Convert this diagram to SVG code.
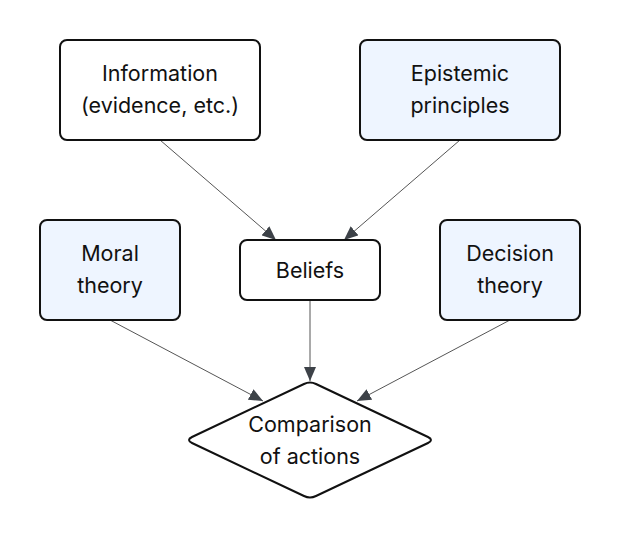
<svg xmlns="http://www.w3.org/2000/svg" width="620" height="540" viewBox="0 0 620 540">
<style>
.box{fill:#ffffff;stroke:#111111;stroke-width:2}
.blue{fill:#eef5ff}
.lbl{font-family:Inter,"Liberation Sans",sans-serif;font-size:21.5px;fill:#111111;text-anchor:middle}
.edge{stroke:#555555;stroke-width:1;fill:none;marker-end:url(#ah)}
</style>
<defs>
<marker id="ah" markerUnits="userSpaceOnUse" markerWidth="15" markerHeight="12" refX="14" refY="6" orient="auto">
<path d="M0,0 L14,6 L0,12 Z" fill="#3d4248"/>
</marker>
</defs>
<rect width="620" height="540" fill="#ffffff"/>
<g id="edges">
<line class="edge" x1="160" y1="140" x2="276" y2="240"/>
<line class="edge" x1="460" y1="140" x2="344" y2="240"/>
<line class="edge" x1="310" y1="300" x2="310" y2="381"/>
<line class="edge" x1="110" y1="320" x2="263" y2="401"/>
<line class="edge" x1="510" y1="320" x2="357" y2="401"/>
</g>
<g id="information">
<rect class="box" x="60" y="40" width="200" height="100" rx="7"/>
<text class="lbl" x="160" y="81">Information</text>
<text class="lbl" x="160" y="113">(evidence, etc.)</text>
</g>
<g id="epistemic">
<rect class="box blue" x="360" y="40" width="200" height="100" rx="7"/>
<text class="lbl" x="460" y="81">Epistemic</text>
<text class="lbl" x="460" y="113">principles</text>
</g>
<g id="moral">
<rect class="box blue" x="40" y="220" width="140" height="100" rx="7"/>
<text class="lbl" x="110" y="261">Moral</text>
<text class="lbl" x="110" y="293">theory</text>
</g>
<g id="beliefs">
<rect class="box" x="240" y="240" width="140" height="60" rx="7"/>
<text class="lbl" x="310" y="278">Beliefs</text>
</g>
<g id="decision">
<rect class="box blue" x="440" y="220" width="140" height="100" rx="7"/>
<text class="lbl" x="510" y="261">Decision</text>
<text class="lbl" x="510" y="293">theory</text>
</g>
<g id="comparison">
<path class="box" stroke-linejoin="round" d="M304,384 Q310,381 316,384 L428,437 Q434,440 428,443 L316,496 Q310,499 304,496 L192,443 Q186,440 192,437 Z"/>
<text class="lbl" x="310" y="432">Comparison</text>
<text class="lbl" x="310" y="464">of actions</text>
</g>
</svg>
